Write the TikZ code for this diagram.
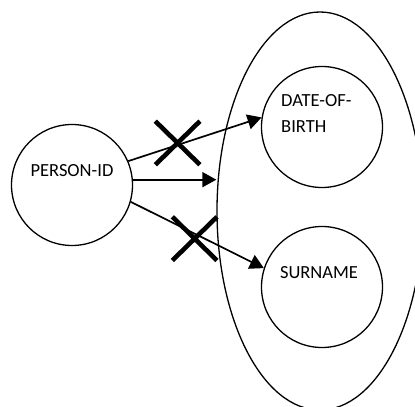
\documentclass[tikz,border=0pt]{standalone}
\usepackage{fontspec}
\setmainfont{Carlito}
\usetikzlibrary{positioning,shapes.geometric,shapes.misc,arrows.meta}

\begin{document}
\begin{tikzpicture}[
x=1bp,y=-1bp,
attr/.style={
  draw,
  circle,
  line width=1.3bp,
  minimum size=121bp,
  inner sep=0
  },
group/.style={
  draw,
  ellipse,
  line width=1.3bp,
  minimum width=206bp,
  minimum height=398bp,
  inner sep=0
  },
lbl/.style={
  font=\fontsize{18.5bp}{26bp}\selectfont,
  inner sep=0
  },
crossmark/.style={
  draw,
  cross out,
  line width=4.6bp,
  minimum width=40bp,
  minimum height=39bp,
  inner sep=0
  },
link/.style={->,line width=1.7bp},
>={Triangle[length=14bp,width=15bp]}]
\clip (0,0) rectangle (415,407);

\node [group] (set) at (320,211) {};
\node [attr] (person) at (72,185) {};
\node [attr] (dob) at (322,127) {};
\node [attr] (surname) at (322,287) {};

\node [lbl] (person-txt) at ([yshift=14bp]person.center) {PERSON-ID};
\node [lbl,anchor=west,align=left] (dob-txt) at ([xshift=-41bp,yshift=14bp]dob.center) {DATE-OF-\\BIRTH};
\node [lbl] (surname-txt) at ([xshift=-3bp,yshift=14bp]surname.center) {SURNAME};

\draw[link] (person.23) -- node[pos=.37,yshift=2bp,crossmark]{} (dob.171);
\draw[link] (person.5) -- (person.5 -| set.west);
\draw[link] (person.-16) -- node[pos=.48,yshift=-5bp,crossmark]{} (surname.162);

\end{tikzpicture}
\end{document}
